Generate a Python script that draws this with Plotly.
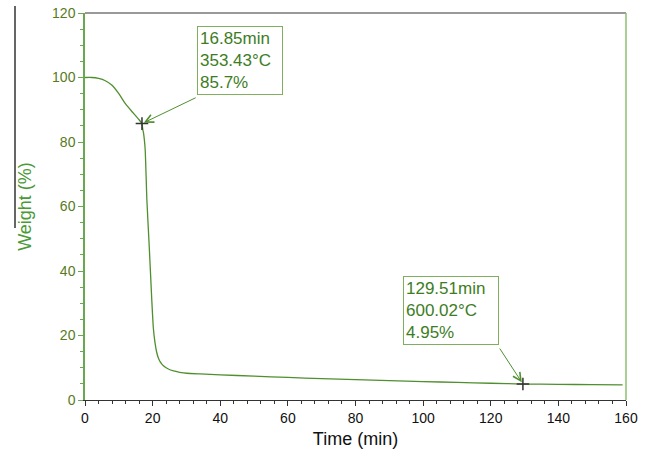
import plotly.graph_objects as go

# ---- data ----
time_min = [0, 2, 4, 6, 8, 10, 12, 14, 15, 16, 16.85, 17.1, 17.3, 17.8, 18.3, 19.05,
            19.75, 20.2, 20.7, 21.2, 21.7, 22.2, 23.2, 24.5, 26.2, 28, 30.1, 34, 40,
            50, 60, 70, 80, 90, 100, 110, 120, 129.51, 140, 150, 159]
weight_pct = [100, 100, 99.7, 99.0, 97.6, 95.0, 91.8, 89.3, 88.1, 86.9, 85.7, 83.8, 82.8,
              77.6, 62.0, 46.5, 31.0, 22.5, 17.8, 14.8, 13.0, 11.9, 10.6, 9.7, 9.0, 8.6,
              8.3, 8.1, 7.8, 7.4, 7.0, 6.6, 6.3, 6.0, 5.7, 5.45, 5.2, 4.95, 4.85, 4.75, 4.7]

mark_time = [16.85, 129.51]
mark_weight = [85.7, 4.95]
mark_labels = ["16.85min<br>353.43°C<br>85.7%", "129.51min<br>600.02°C<br>4.95%"]
label_pos_x = [45.8, 108.3]
label_pos_y = [105.4, 27.6]
label_width = [80, 90]

x_ticks = [0, 20, 40, 60, 80, 100, 120, 140, 160]
y_ticks = [0, 20, 40, 60, 80, 100, 120]

FONT = "Arial, Liberation Sans, sans-serif"
LINE_GREEN = "#4f8f2f"
TEXT_GREEN = "#3d7d1f"
TICK_OLIVE = "#587a1c"

fig = go.Figure()
fig.add_trace(go.Scatter(x=time_min, y=weight_pct, mode="lines",
                         line=dict(color=LINE_GREEN, width=1.3, shape="spline", smoothing=0.4),
                         showlegend=False, hoverinfo="skip"))
fig.add_trace(go.Scatter(x=mark_time, y=mark_weight, mode="markers",
                         marker=dict(symbol="cross-thin", size=9,
                                     line=dict(color="#333333", width=1.5)),
                         showlegend=False, hoverinfo="skip"))

annotations = []
for tx, ty, txt, w in zip(label_pos_x, label_pos_y, mark_labels, label_width):
    annotations.append(dict(x=tx, y=ty, xref="x", yref="y", text=txt, showarrow=False,
                            align="left", xanchor="center", yanchor="middle",
                            font=dict(family=FONT, size=17, color=TEXT_GREEN),
                            bordercolor="#7fae5f", borderwidth=1, borderpad=2,
                            bgcolor="white", width=w))
# arrows (tail at box corner)
annotations.append(dict(x=mark_time[0], y=mark_weight[0], xref="x", yref="y",
                        ax=(197 - 85) / 3.375, ay=(400 - 97) / 3.225,
                        axref="x", ayref="y", text="", showarrow=True,
                        arrowhead=5, arrowsize=1.6, arrowwidth=1, arrowcolor=LINE_GREEN,
                        standoff=2))
annotations.append(dict(x=mark_time[1], y=mark_weight[1], xref="x", yref="y",
                        ax=(498 - 85) / 3.375, ay=(400 - 347) / 3.225,
                        axref="x", ayref="y", text="", showarrow=True,
                        arrowhead=5, arrowsize=1.6, arrowwidth=1, arrowcolor=LINE_GREEN,
                        standoff=2))

L, R, T, B = 85, 28, 13, 56
W, H = 654, 456
pw = W - L - R

shapes = [
    dict(type="line", xref="paper", yref="paper", x0=0, x1=1, y0=1, y1=1,
         line=dict(color="#777777", width=1.5)),
    dict(type="line", xref="paper", yref="paper", x0=1, x1=1, y0=0, y1=1,
         line=dict(color="#8cc070", width=1.5)),
    dict(type="line", xref="paper", yref="paper",
         x0=(15 - L) / pw, x1=(15 - L) / pw,
         y0=(H - B - 6) / (H - T - B), y1=(H - B - 228) / (H - T - B),
         line=dict(color="#333333", width=1.5)),
]

fig.update_layout(
    width=W, height=H, margin=dict(l=L, r=R, t=T, b=B, autoexpand=False),
    paper_bgcolor="white", plot_bgcolor="white",
    font=dict(family=FONT),
    annotations=annotations, shapes=shapes,
    xaxis=dict(range=[0, 160], tickvals=x_ticks, showgrid=False, zeroline=False,
               showline=True, linecolor="#333333", linewidth=1.2,
               ticks="outside", ticklen=5, tickcolor="#333333", tickwidth=1,
               minor=dict(dtick=4, ticks="outside", ticklen=3, tickcolor="#333333"),
               tickfont=dict(family=FONT, size=14, color="#111111"),
               title=dict(text="Time (min)", font=dict(family=FONT, size=18, color="#111111"),
                          standoff=7)),
    yaxis=dict(range=[0, 120], tickvals=y_ticks, showgrid=False, zeroline=False,
               showline=True, linecolor="#6aa84f", linewidth=1.5,
               ticks="outside", ticklen=5, tickcolor="#6aa84f", tickwidth=1,
               minor=dict(dtick=5, ticks="outside", ticklen=3, tickcolor="#6aa84f"),
               tickfont=dict(family=FONT, size=14, color=TICK_OLIVE),
               title=dict(text="Weight (%)", font=dict(family=FONT, size=18, color="#4a9a35"),
                          standoff=16)),
)

fig.write_html("out.html")
